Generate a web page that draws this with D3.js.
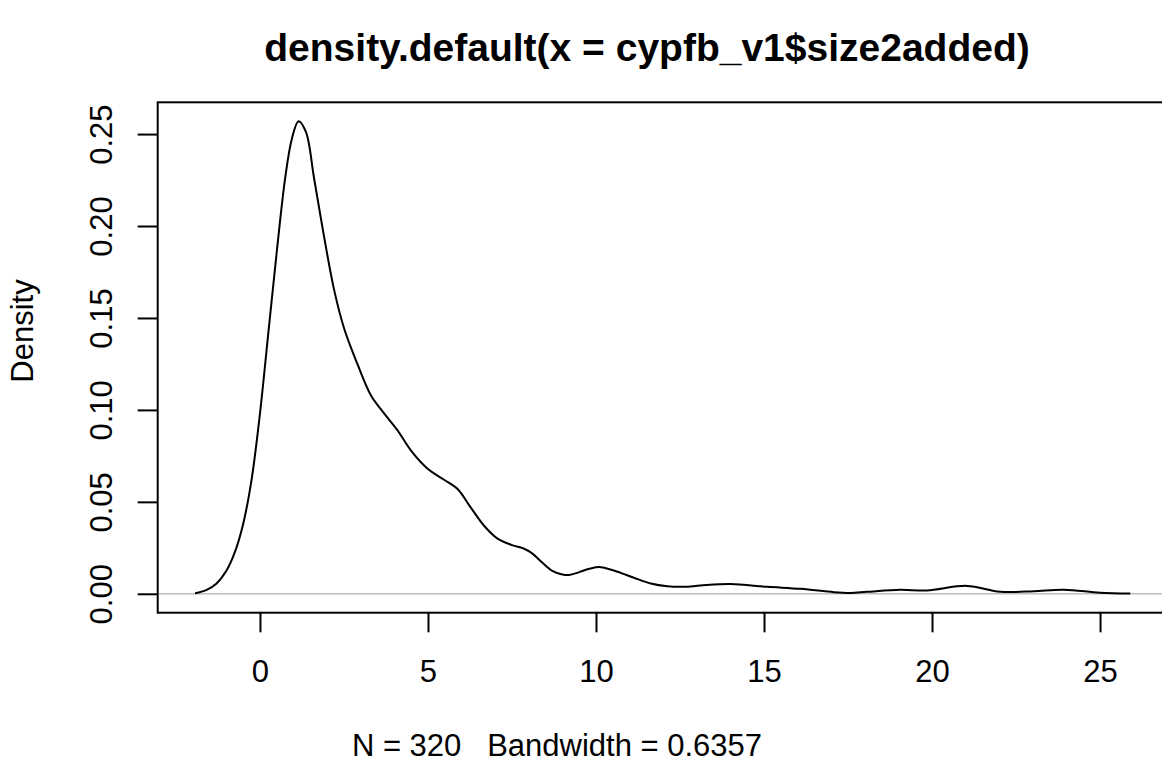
<!DOCTYPE html>
<html>
<head>
<meta charset="utf-8">
<script src="https://cdn.jsdelivr.net/npm/d3@7"></script>
<style>
  html, body { margin: 0; padding: 0; background: #fff; }
  svg { display: block; }
</style>
</head>
<body>
<script>
// density curve: x values and density values
const xs = [-1.93, -1.6, -1.3, -1.0, -0.75, -0.5, -0.25, 0.0, 0.25, 0.5, 0.75, 0.95, 1.15, 1.37, 1.61, 1.91, 2.21, 2.51, 2.9, 3.3, 3.7, 4.09, 4.49, 4.99, 5.48, 5.88, 6.27, 6.67, 7.07, 7.5, 7.86, 8.1, 8.4, 8.7, 9.0, 9.2, 9.5, 9.8, 10.14, 10.64, 11.13, 11.63, 12.12, 12.62, 13.11, 14.0, 15.1, 16.1, 17.08, 17.57, 18.07, 19.06, 19.85, 21.04, 22.03, 23.02, 23.92, 25.0, 25.9]
const dens = [0.0003, 0.002, 0.0055, 0.0125, 0.0225, 0.038, 0.062, 0.098, 0.142, 0.186, 0.226, 0.2475, 0.257, 0.251, 0.226, 0.194, 0.165, 0.144, 0.125, 0.108, 0.098, 0.089, 0.078, 0.068, 0.062, 0.057, 0.047, 0.037, 0.03, 0.0265, 0.0245, 0.022, 0.017, 0.0125, 0.0105, 0.0102, 0.0118, 0.0136, 0.0145, 0.012, 0.0087, 0.0056, 0.0041, 0.0038, 0.0045, 0.0053, 0.0038, 0.0027, 0.0009, 0.0005, 0.0011, 0.0022, 0.0018, 0.0043, 0.0011, 0.0014, 0.0022, 0.0006, 0.0001]

const xTicks = [0, 5, 10, 15, 20, 25]
const yTicks = [0, 0.05, 0.10, 0.15, 0.20, 0.25]

const titleText = 'density.default(x = cypfb_v1$size2added)'
const xLabel = 'N = 320   Bandwidth = 0.6357'
const yLabel = 'Density'

const width = 1162
const height = 762
const plotLeft = 157.7
const plotRight = 1167.7
const plotTop = 102.3
const plotBottom = 612.7
const font = 'Liberation Sans, Arial, Helvetica, sans-serif'
const fs = 31

const svg = d3.select('body').append('svg')
  .attr('width', width)
  .attr('height', height)
  .attr('viewBox', `0 0 ${width} ${height}`)

// R style 4% padding on both axes
const xExt = d3.extent(xs)
const xPad = (xExt[1] - xExt[0]) * 0.04
const yMax = d3.max(dens)
const yPad = yMax * 0.04

const xScale = d3.scaleLinear().domain([xExt[0] - xPad, xExt[1] + xPad]).range([plotLeft, plotRight])
const yScale = d3.scaleLinear().domain([0 - yPad, yMax + yPad]).range([plotBottom, plotTop])

const pts = xs.map((x, i) => ({ x: x, y: dens[i] }))

// grey zero line
svg.append('line')
  .attr('x1', plotLeft).attr('x2', plotRight)
  .attr('y1', yScale(0)).attr('y2', yScale(0))
  .style('stroke', '#bebebe')
  .style('stroke-width', 1.6)

// the density curve
const line = d3.line()
  .x(d => xScale(d.x))
  .y(d => yScale(d.y))
  .curve(d3.curveCatmullRom.alpha(0.5))

svg.append('path')
  .datum(pts)
  .attr('d', line)
  .style('fill', 'none')
  .style('stroke', '#000')
  .style('stroke-width', 2)

// box
svg.append('rect')
  .attr('x', plotLeft).attr('y', plotTop)
  .attr('width', plotRight - plotLeft).attr('height', plotBottom - plotTop)
  .style('fill', 'none')
  .style('stroke', '#000')
  .style('stroke-width', 2)

// axes
const xaxis = d3.axisBottom(xScale)
  .tickValues(xTicks)
  .tickSize(19.6)
  .tickPadding(27.7)
  .tickFormat(d3.format('d'))

svg.append('g')
  .attr('class', 'axis')
  .attr('transform', `translate(0,${plotBottom})`)
  .call(xaxis)

const yaxis = d3.axisLeft(yScale)
  .tickValues(yTicks)
  .tickSize(20)
  .tickFormat(d3.format('.2f'))

svg.append('g')
  .attr('class', 'axis')
  .attr('transform', `translate(${plotLeft},0)`)
  .call(yaxis)
  .selectAll('text')
  .attr('x', 0)
  .attr('dy', 0)
  .attr('transform', 'translate(-46,0) rotate(-90)')
  .style('text-anchor', 'middle')

svg.selectAll('.axis path').remove()
svg.selectAll('.axis line')
  .style('stroke', '#000')
  .style('stroke-width', 2)
svg.selectAll('.axis text')
  .style('fill', '#000')
  .style('font-family', font)
  .style('font-size', fs + 'px')

// title and labels
svg.append('text')
  .attr('x', 647)
  .attr('y', 61)
  .attr('text-anchor', 'middle')
  .style('font-family', font)
  .style('font-weight', 'bold')
  .style('font-size', '39px')
  .text(titleText)

svg.append('text')
  .attr('x', 557)
  .attr('y', 756)
  .attr('text-anchor', 'middle')
  .style('white-space', 'pre')
  .style('font-family', font)
  .style('font-size', fs + 'px')
  .text(xLabel)

svg.append('text')
  .attr('transform', 'translate(33,331) rotate(-90)')
  .attr('text-anchor', 'middle')
  .style('font-family', font)
  .style('font-size', fs + 'px')
  .text(yLabel)
</script>
</body>
</html>
